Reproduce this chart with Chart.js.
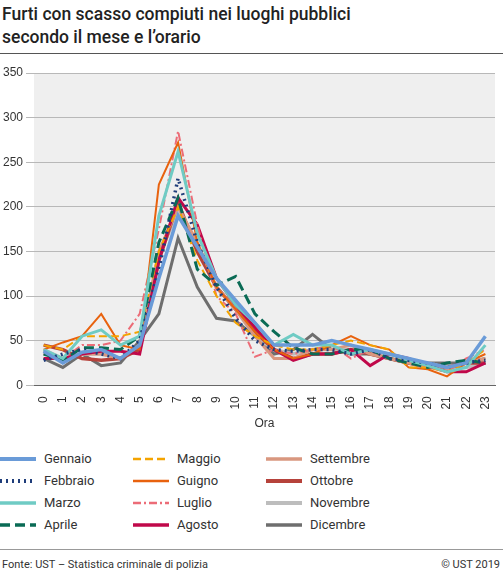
<!DOCTYPE html>
<html><head><meta charset="utf-8">
<script src="https://cdn.jsdelivr.net/npm/chart.js@4/dist/chart.umd.min.js"></script>
<style>
body{margin:0;width:503px;height:572px;font-family:Roboto,"Noto Sans",sans-serif;background:#fff;position:relative;overflow:hidden}
#title{position:absolute;left:2px;top:3px;font-size:17.5px;font-weight:500;line-height:23px;color:#222}
#hr1{position:absolute;left:0;right:0;top:53px;border-top:1px solid #555}
#wrap{position:absolute;left:0;top:60px;width:503px;height:375px}
#leg{position:absolute;left:0;top:449px;width:503px}
.it{position:absolute;font-size:13px;color:#333;height:20px;line-height:20px}
.it canvas{position:absolute;left:0;top:0}
.it span{position:absolute;left:44px;white-space:nowrap}
#hr2{position:absolute;left:0;right:0;top:549px;border-top:1px solid #999}
#f1{position:absolute;left:2px;top:558px;font-size:11px;color:#333}
#f2{position:absolute;right:3px;top:558px;font-size:11px;color:#333}
</style></head><body>
<div id="title">Furti con scasso compiuti nei luoghi pubblici<br>secondo il mese e l’orario</div>
<div id="hr1"></div>
<div id="wrap"><canvas id="c"></canvas></div>
<div id="leg"></div>
<div id="hr2"></div>
<div id="f1">Fonte: UST – Statistica criminale di polizia</div>
<div id="f2">© UST 2019</div>
<script>
const hours=["0","1","2","3","4","5","6","7","8","9","10","11","12","13","14","15","16","17","18","19","20","21","22","23"];
const yTicks=[0,50,100,150,200,250,300,350];
const gennaio=[38,25,37,40,30,45,120,190,155,120,95,70,45,45,45,50,45,40,35,30,25,20,25,55];
const febbraio=[28,35,40,35,30,50,130,232,160,110,75,50,40,38,40,40,35,40,30,28,25,20,25,28];
const marzo=[40,30,55,62,45,55,190,262,170,120,90,70,45,57,45,45,35,40,35,28,22,15,20,45];
const aprile=[35,28,42,42,40,55,160,210,130,112,122,80,60,42,35,35,40,40,30,25,20,25,28,25];
const maggio=[45,40,55,55,55,60,150,200,140,100,70,55,45,40,40,45,50,45,40,20,20,15,25,40];
const giugno=[40,48,55,80,45,40,225,272,160,110,85,60,40,30,35,45,55,45,40,20,18,10,25,35];
const luglio=[35,30,45,45,50,80,175,285,180,100,80,32,40,35,40,45,30,40,35,30,20,15,30,40];
const agosto=[30,30,35,38,38,35,140,210,180,120,90,65,40,28,35,35,40,22,35,30,22,15,15,25];
const settembre=[38,30,35,35,30,45,150,200,160,110,85,55,30,30,40,40,45,35,30,25,20,18,25,30];
const ottobre=[45,40,30,28,30,40,140,205,150,110,85,60,40,30,35,35,40,35,30,25,20,20,25,25];
const novembre=[40,30,35,35,30,45,145,195,150,110,85,55,40,35,40,40,40,40,30,25,25,20,20,25];
const dicembre=[30,20,35,22,25,50,80,165,110,75,72,55,35,40,57,40,35,35,30,25,25,25,25,30];
const series=[
["Gennaio",gennaio,"#6a9bd8",3.5,[]],
["Febbraio",febbraio,"#1f3d7a",3.5,[2,4]],
["Marzo",marzo,"#6fcbc4",3,[]],
["Aprile",aprile,"#0a6b55",3,[10,5]],
["Maggio",maggio,"#f4a300",2,[8,4]],
["Guigno",giugno,"#e8620e",2,[]],
["Luglio",luglio,"#ec6c77",2,[8,3,2,3]],
["Agosto",agosto,"#c0084a",3,[]],
["Settembre",settembre,"#d9977f",3,[]],
["Ottobre",ottobre,"#b6423b",3.5,[]],
["Novembre",novembre,"#bdbdbd",3.5,[]],
["Dicembre",dicembre,"#6e6e6e",3,[]]
];
const bg={id:'bg',beforeDraw(c){const a=c.chartArea,x=c.ctx;x.save();x.fillStyle='#efefef';x.fillRect(a.left,a.top,a.right-a.left,a.bottom-a.top);x.restore();}};
new Chart(document.getElementById('c'),{type:'line',
data:{labels:hours,datasets:series.map(s=>({label:s[0],data:s[1],borderColor:s[2],borderWidth:s[3],borderDash:s[4],pointRadius:0,tension:0,fill:false}))},
options:{responsive:true,maintainAspectRatio:false,animation:false,
layout:{padding:{left:0,right:8,top:13,bottom:0}},
plugins:{legend:{display:false},tooltip:{enabled:false}},
scales:{
x:{offset:true,grid:{display:false},border:{color:'#666'},ticks:{color:'#333',font:{size:12},maxRotation:90,minRotation:90,autoSkip:false},
 title:{display:true,text:'Ora',color:'#333',font:{size:12}}},
y:{min:0,max:350,afterBuildTicks(ax){ax.ticks=yTicks.map(v=>({value:v}));},grid:{color:'#b8b8b8',lineWidth:1},border:{display:false},ticks:{color:'#333',font:{size:12}}}
}},plugins:[bg]});
const leg=document.getElementById('leg');
series.forEach((s,i)=>{const col=Math.floor(i/4),row=i%4;
const d=document.createElement('div');d.className='it';d.style.left=(col*133)+'px';d.style.top=(row*22)+'px';
const cv=document.createElement('canvas');cv.width=36;cv.height=20;const x=cv.getContext('2d');
x.strokeStyle=s[2];x.lineWidth=s[3]+0.5;x.setLineDash(s[4]);x.beginPath();x.moveTo(0,10);x.lineTo(36,10);x.stroke();
d.appendChild(cv);const sp=document.createElement('span');sp.textContent=s[0];d.appendChild(sp);leg.appendChild(d);});
</script></body></html>
